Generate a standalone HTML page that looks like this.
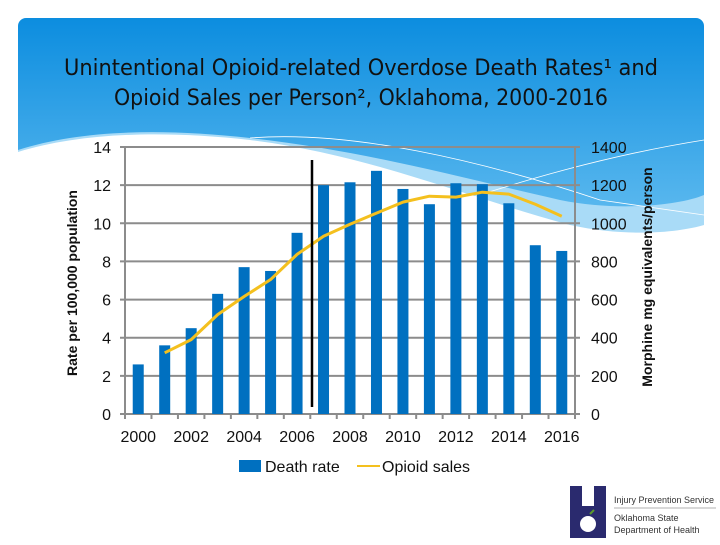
<!DOCTYPE html>
<html><head><meta charset="utf-8"><style>
html,body{margin:0;padding:0;background:#fff;}
body{width:720px;height:540px;overflow:hidden;font-family:"Liberation Sans",sans-serif;}
</style></head><body>
<svg id="chart" width="720" height="540" xmlns="http://www.w3.org/2000/svg" font-family="Liberation Sans, sans-serif">
<defs>
<linearGradient id="bg" x1="0" y1="0" x2="0" y2="1">
<stop offset="0" stop-color="#0c8ddf"/><stop offset="1" stop-color="#6cc2f2"/>
</linearGradient>
</defs>
<g>
<rect x="18" y="18" width="686" height="240" rx="8" fill="url(#bg)"/>
<path d="M18 150 C80 130,160 128,250 138 C360 150,450 175,560 200 C620 212,680 205,704 195 L704 540 L18 540 Z" fill="#a9dbf7"/>
<path d="M18 152 C80 133,160 130,250 140 C370 155,460 195,570 225 C630 238,680 232,704 225 L704 540 L18 540 Z" fill="#ffffff"/>
<path d="M250 138 C350 130,480 160,600 200 L704 215" fill="none" stroke="#fff" stroke-width="0.8"/>
<path d="M420 215 C520 180,610 155,704 140" fill="none" stroke="#fff" stroke-width="0.8"/>
</g>
<text x="361" y="75" text-anchor="middle" font-size="22" textLength="594" lengthAdjust="spacingAndGlyphs" fill="#111" font-family="DejaVu Sans Condensed, Liberation Sans Narrow, sans-serif">Unintentional Opioid-related Overdose Death Rates¹ and</text>
<text x="361" y="105" text-anchor="middle" font-size="22" textLength="494" lengthAdjust="spacingAndGlyphs" fill="#111" font-family="DejaVu Sans Condensed, Liberation Sans Narrow, sans-serif">Opioid Sales per Person², Oklahoma, 2000-2016</text>
<g id="grid"></g>
<g id="bars"></g>
<g id="line"></g>
<g id="axes"></g>
<line x1="312" y1="160" x2="312" y2="407" stroke="#000" stroke-width="2.5"/>
<text transform="translate(77,283) rotate(-90)" text-anchor="middle" font-size="14" font-weight="bold" fill="#111">Rate per 100,000 population</text>
<text transform="translate(652,277) rotate(-90)" text-anchor="middle" font-size="14" font-weight="bold" fill="#111">Morphine mg equivalents/person</text>
<g>
<rect x="239" y="460" width="22" height="12" fill="#0070c0"/>
<text x="265" y="472" font-size="16" fill="#111">Death rate</text>
<line x1="357" y1="466" x2="380" y2="466" stroke="#f4c01e" stroke-width="2"/>
<text x="382" y="472" font-size="16" fill="#111">Opioid sales</text>
</g>
<g>
<path d="M570 486 H582 V506 H594 V486 H606 V538 H570 Z" fill="#2a2a6e"/>
<circle cx="588" cy="524" r="8" fill="#fff"/>
<path d="M590 514 l4 -4" stroke="#5a9a2a" stroke-width="2"/>
<text x="614" y="503" font-size="9" fill="#333">Injury Prevention Service</text>
<line x1="614" y1="508" x2="716" y2="508" stroke="#999" stroke-width="0.8"/>
<text x="614" y="521" font-size="9" fill="#333">Oklahoma State</text>
<text x="614" y="533" font-size="9" fill="#333">Department of Health</text>
</g>
</svg>
<script>
const years=[2000,2001,2002,2003,2004,2005,2006,2007,2008,2009,2010,2011,2012,2013,2014,2015,2016];
const deathRate=[2.6,3.6,4.5,6.3,7.7,7.5,9.5,12.0,12.15,12.75,11.8,11.0,12.1,12.05,11.05,8.85,8.55];
const salesYears=[2001,2002,2003,2004,2005,2006,2007,2008,2009,2010,2011,2012,2013,2014,2015,2016];
const sales=[321,390,521,616,705,837,932,995,1053,1111,1142,1137,1163,1153,1100,1037];
const leftTicks=[0,2,4,6,8,10,12,14];
const rightTicks=[0,200,400,600,800,1000,1200,1400];
const xLabels=[2000,2002,2004,2006,2008,2010,2012,2014,2016];
const NS='http://www.w3.org/2000/svg';
const X0=125,X1=575,Y0=414,Y1=147;
const band=(X1-X0)/years.length;
const xC=y=>X0+band*(years.indexOf(y)+0.5);
const yL=v=>Y0-(v/14)*(Y0-Y1);
const yR=v=>Y0-(v/1400)*(Y0-Y1);
function mk(t,a,p){const e=document.createElementNS(NS,t);for(const k in a)e.setAttribute(k,a[k]);p.appendChild(e);return e;}
const grid=document.getElementById('grid'),bars=document.getElementById('bars'),line=document.getElementById('line'),axes=document.getElementById('axes');
leftTicks.forEach((v,i)=>{
 const g=mk('line',{x1:X0-5,x2:X1+5,y1:yL(v),y2:yL(v),stroke:'#8c8c8c','stroke-width':2},grid);
 
 
 const t=mk('text',{x:X0-14,y:yL(v)+6,'text-anchor':'end','font-size':16,fill:'#111'},axes);
 t.textContent=v;
 
 
 const r=mk('text',{x:X1+16,y:yR(rightTicks[i])+6,'font-size':16,fill:'#111'},axes);
 r.textContent=rightTicks[i];
 
 
});
mk('line',{x1:X0,x2:X0,y1:Y1,y2:Y0,stroke:'#8c8c8c','stroke-width':2},axes);
mk('line',{x1:X1,x2:X1,y1:Y1,y2:Y0,stroke:'#8c8c8c','stroke-width':2},axes);
for(let i=0;i<=years.length;i++){mk('line',{x1:X0+band*i,x2:X0+band*i,y1:Y0,y2:Y0+5,stroke:'#8c8c8c','stroke-width':2},axes);}
years.forEach((y,i)=>{
 const b=mk('rect',{x:xC(y)-5.5,y:yL(deathRate[i]),width:11,height:Y0-yL(deathRate[i]),fill:'#0070c0'},bars);
 
 
});
xLabels.forEach(y=>{
 const t=mk('text',{x:xC(y),y:442,'text-anchor':'middle','font-size':16,fill:'#111'},axes);
 t.textContent=y;
 
 
});
const pts=salesYears.map((y,i)=>xC(y)+','+yR(sales[i])).join(' ');
const pl=mk('polyline',{points:pts,fill:'none',stroke:'#f4c01e','stroke-width':3,'stroke-linejoin':'round'},line);


</script>
</body></html>
